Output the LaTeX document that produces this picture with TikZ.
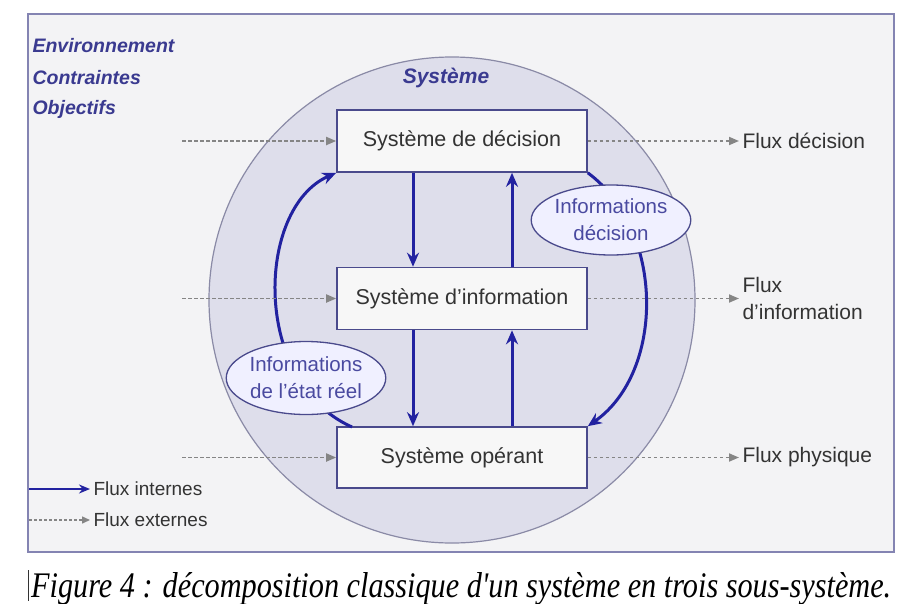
\documentclass[tikz,border=0pt]{standalone}
\usepackage{fontspec}
\setmainfont{Liberation Sans}
\newfontfamily\capfont{Liberation Serif}
\usetikzlibrary{arrows.meta,shapes.geometric}
\definecolor{frameC}{HTML}{8484B2}
\definecolor{bgC}{HTML}{F3F3F5}
\definecolor{discC}{HTML}{DEDEEB}
\definecolor{discLine}{HTML}{8A8AA6}
\definecolor{boxLine}{HTML}{4A4A8C}
\definecolor{flowC}{HTML}{2222A0}
\definecolor{extC}{HTML}{858585}
\definecolor{titleC}{HTML}{3A3A90}
\definecolor{ellC}{HTML}{4A4AA0}
\tikzset{
  sysbox/.style={draw=boxLine, line width=1.6pt, fill=white!97!black, minimum width=250pt, minimum height=62pt, font=\fontsize{21.5}{25}\selectfont, text=black!80},
  infoell/.style={ellipse, draw=boxLine, line width=1.3pt, fill=white!94!blue, inner sep=0pt, minimum width=138pt, minimum height=70pt, align=center, text=ellC, font=\fontsize{20.5}{27}\selectfont},
  intflow/.style={draw=flowC, line width=3pt, -{Stealth[length=14pt,width=12pt]}},
  extflow/.style={draw=extC, line width=1.8pt, dash pattern=on 3.5pt off 2.5pt, -{Triangle[length=10pt,width=8pt]}},
  envlabel/.style={anchor=west, text=titleC, font=\fontsize{19.5}{23}\selectfont\bfseries\itshape},
  flowlabel/.style={anchor=west, align=left, text=black!80, font=\fontsize{21}{27}\selectfont},
  legendlabel/.style={anchor=west, text=black!80, font=\fontsize{19}{22}\selectfont}
}
\begin{document}
\begin{tikzpicture}[x=1pt,y=-1pt]
\useasboundingbox (0,0) rectangle (908,603);
\fill[white] (0,0) rectangle (908,603);
% outer frame
\draw[frameC, line width=2pt, fill=bgC] (28,14) rectangle (894,552);
% system disc
\draw[discLine, line width=1.2pt, fill=discC] (452,300) circle (243);
\node[text=titleC, font=\fontsize{21}{24}\selectfont\bfseries\itshape] (sys) at (446,78) {Système};
% environment labels
\node[envlabel] (env) at (29,46) {Environnement};
\node[envlabel] (con) at (29,78) {Contraintes};
\node[envlabel] (obj) at (29,109) {Objectifs};
% sub-systems
\node[sysbox] (dec) at (462,141) {Système de décision};
\node[sysbox] (inf) at (462,298.5) {Système d'information};
\node[sysbox, minimum height=61pt] (ope) at (462,457.5) {Système opérant};
% internal vertical flows
\draw[intflow] ([xshift=-49pt]dec.south) -- ([xshift=-49pt]inf.north);
\draw[intflow] ([xshift=50pt]inf.north) -- ([xshift=50pt]dec.south);
\draw[intflow] ([xshift=-49pt]inf.south) -- ([xshift=-49pt]ope.north);
\draw[intflow] ([xshift=50pt]ope.north) -- ([xshift=50pt]inf.south);
% feedback loops
\coordinate (lstart) at (352,427);
\draw[intflow] (lstart) .. controls (251,382) and (256,208) .. (dec.south west);
\draw[intflow] (dec.south east) .. controls (665,230) and (665,372) .. (ope.north east);
\node[infoell] (eld) at (611,220) {Informations\\décision};
\node[infoell, minimum width=142pt, minimum height=73pt] (elr) at (306,378) {Informations\\de l'état réel};
% external flows
\coordinate (in1) at (182,141);
\coordinate (in2) at (182,298.5);
\coordinate (in3) at (182,457.5);
\draw[extflow] (in1) -- (dec.west);
\draw[extflow] (in2) -- (inf.west);
\draw[extflow] (in3) -- (ope.west);
\node[flowlabel] (fd) at (739,141) {Flux décision};
\node[flowlabel] (fi) at (739,298.5) {Flux\\d'information};
\node[flowlabel] (fp) at (739,457.5) {Flux physique};
\draw[extflow] (dec.east) -- (fd.west);
\draw[extflow] (inf.east) -- (fi.west);
\draw[extflow] (ope.east) -- (fp.west);
% legend
\coordinate (lg1) at (29,489);
\coordinate (lg2) at (29,520);
\node[legendlabel] (lint) at (90,489) {Flux internes};
\node[legendlabel] (lext) at (90,520) {Flux externes};
\draw[draw=flowC, line width=2.4pt, -{Stealth[length=11pt,width=9pt]}] (lg1) -- (lint.west);
\draw[draw=extC, line width=1.5pt, dash pattern=on 3pt off 2pt, -{Triangle[length=8pt,width=7pt]}] (lg2) -- (lext.west);
% caption
\draw[black!80, line width=0.8pt] (28,570) -- (28,601);
\node[anchor=base west, inner sep=0pt, xscale=0.84, font=\capfont\itshape\fontsize{36}{40}\selectfont] (cap) at (31,597) {Figure 4 : décomposition classique d'un système en trois sous-système.};
\end{tikzpicture}
\end{document}
